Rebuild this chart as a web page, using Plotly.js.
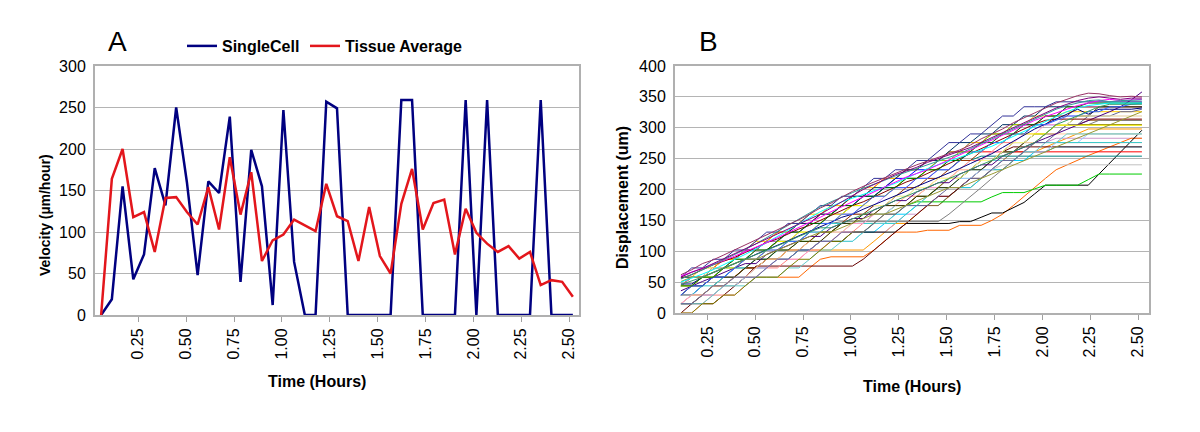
<!DOCTYPE html>
<html>
<head>
<meta charset="utf-8">
<script src="https://cdn.plot.ly/plotly-3.0.1.min.js"></script>
<style>
  html, body { margin: 0; padding: 0; background: #fff; }
  #chart { width: 1200px; height: 432px; }
</style>
</head>
<body>
<div id="chart"></div>
<script>
// frame times in hours (one frame every ~3.4 min)
var timeHours = [0.056, 0.112, 0.168, 0.224, 0.28, 0.336, 0.392, 0.448, 0.504, 0.56,
  0.616, 0.672, 0.728, 0.784, 0.84, 0.896, 0.952, 1.008, 1.064, 1.12,
  1.176, 1.232, 1.288, 1.344, 1.4, 1.456, 1.512, 1.568, 1.624, 1.68,
  1.736, 1.792, 1.848, 1.904, 1.96, 2.016, 2.072, 2.128, 2.184, 2.24,
  2.296, 2.352, 2.408, 2.464, 2.52];

// panel A, velocity in um/hour
var singleCell = [0, 19, 155, 43, 73, 177, 132, 250, 160, 48, 161, 147, 239, 40, 199, 155, 12, 247, 64, 0,
  0, 257, 249, 0, 0, 0, 0, 0, 259, 259, 0, 0, 0, 0, 259, 0, 259, 0, 0, 0, 0, 259, 0, 0, 0];
var tissueAverage = [0, 164, 200, 118, 124, 76, 141, 142, 124, 109, 154, 103, 190, 121, 172, 65, 90, 97, 115, 108,
  101, 158, 119, 113, 65, 130, 71, 50, 134, 176, 103, 135, 139, 73, 128, 99, 86, 76, 83, 68, 76, 36, 42, 40, 22];

// panel B, displacement (um) per cell, from the 2nd frame on
var displacementTracks = [
  [15,29,29,44,44,58,73,73,87,87,102, 102,102,102,102,102,102,102,116,131,145,145, 160,174,174,189,203,203,218,232,232,247,261, 261,269,276,283,290,298,298,298,298,298,298],
  [29,29,44,58,58,73,87,87,102,102,116, 116,131,131,131,131,131,131,131,131,145,160, 160,174,189,189,203,218,218,232,247,247,261, 276,276,283,283,283,283,283,283,283,283,283],
  [15,15,29,29,44,58,58,73,73,87,87, 102,102,116,116,116,116,131,131,145,160,160, 174,174,174,189,203,203,218,232,232,247,247, 261,261,269,269,269,269,269,269,269,269,269],
  [44,58,58,73,87,87,102,102,116,131,131, 145,145,160,160,174,174,174,174,174,174,174, 174,174,174,189,203,218,218,232,247,261,261, 276,290,290,305,305,312,312,312,312,312,312],
  [15,15,29,29,44,44,58,58,58,58,58, 58,73,87,91,91,91,91,102,116,131,131, 131,134,134,134,142,142,142,150,160,174,189, 203,218,232,240,247,255,262,269,276,283,283],
  [29,29,29,44,58,58,73,73,87,87,87, 102,102,116,116,116,131,131,131,131,131,145, 145,145,145,145,148,148,155,162,162,170,179, 193,207,207,207,207,207,225,243,260,278,296],
  [44,44,58,58,58,73,73,87,87,102,102, 116,116,131,131,145,145,145,160,160,174,174, 180,180,180,180,180,180,180,188,195,195,195, 201,207,207,207,207,216,225,225,225,225,225],
  [15,29,29,44,58,58,73,87,87,102,102, 116,131,131,145,145,160,160,174,174,189,189, 203,203,203,218,218,218,232,232,240,240,240, 240,240,240,240,240,240,240,240,240,240,240],
  [29,44,44,58,73,73,87,102,102,116,131, 131,145,145,160,174,174,189,189,203,203,218, 218,232,232,232,247,247,254,254,254,254,254, 254,254,254,254,254,254,254,254,254,254,254],
  [44,58,58,73,87,87,102,102,116,131,131, 145,145,160,174,174,189,189,203,218,218,232, 232,247,247,261,261,261,261,261,261,261,261, 261,261,261,261,261,261,261,261,261,261,261],
  [0,15,15,15,29,44,58,76,76,76,76, 76,76,76,76,76,76,87,102,116,131,145, 160,174,189,189,203,218,232,247,261,269,269, 269,269,269,269,269,269,269,269,269,269,269],
  [0,0,15,29,29,29,44,58,73,73,87, 87,102,102,116,131,131,145,160,160,174,189, 189,203,218,218,232,247,247,261,276,276,276, 276,276,276,276,276,276,276,276,276,276,276],
  [29,29,44,58,58,73,87,87,102,116,116, 131,145,145,160,160,174,189,189,203,218,218, 232,232,247,261,261,276,276,290,290,305,305, 305,305,305,305,305,305,305,305,305,305,305],
  [15,15,29,29,44,44,58,58,73,87,87, 102,102,116,116,131,145,145,160,160,174,174, 189,189,203,203,218,218,232,232,247,247,261, 261,261,276,276,276,290,290,290,290,290,290],
  [58,58,73,73,87,87,102,116,116,131,131, 145,160,160,174,174,189,203,203,218,218,232, 232,247,247,261,261,276,276,290,290,305,305, 319,319,319,326,326,326,326,326,326,326,326],
  [29,44,44,58,58,73,73,87,102,102,116, 116,131,131,145,160,160,174,174,189,203,203, 218,218,232,232,247,261,261,276,276,290,290, 305,305,305,319,319,319,319,319,319,319,319],
  [44,44,58,73,73,87,87,102,102,116,131, 131,131,145,145,148,148,148,148,148,148,148, 148,148,148,160,174,189,203,218,232,247,261, 276,290,290,305,305,305,312,312,312,312,312],
  [58,58,58,73,73,87,102,102,116,116,131, 145,145,160,160,174,189,189,203,203,218,232, 232,247,247,261,276,276,290,290,305,305,319, 319,334,334,334,334,334,334,334,334,334,334],
  [44,58,58,58,73,87,87,87,102,116,116, 116,131,145,145,160,174,174,189,189,203,218, 218,232,247,247,261,261,276,290,290,305,305, 305,319,319,334,334,334,334,334,334,334,334],
  [15,15,29,44,44,58,73,73,87,87,102, 102,116,131,131,145,160,160,174,174,189,203, 203,218,218,232,247,247,261,276,276,290,290, 305,305,319,319,334,334,334,334,334,334,334],
  [29,29,44,44,58,73,73,87,87,102,116, 116,131,131,145,145,145,145,145,145,145,160, 174,189,203,218,218,232,247,247,261,261,276, 276,276,276,276,276,276,276,276,276,276,276],
  [15,29,29,29,44,58,58,73,73,87,87, 87,102,116,116,131,145,145,160,174,174,174, 189,203,203,218,232,232,247,261,261,276,290, 290,305,305,305,305,305,305,305,305,305,305],
  [58,73,73,87,87,102,102,116,131,131,145, 145,160,174,174,189,189,203,218,218,232,232, 247,247,261,276,276,290,290,305,319,319,334, 334,334,342,342,342,342,342,342,342,342,342],
  [29,29,29,44,44,58,58,73,87,87,102, 102,116,116,131,131,145,160,160,174,174,189, 189,203,218,218,232,232,247,247,261,261,276, 276,290,290,290,290,290,290,290,290,290,290],
  [15,15,15,29,44,44,44,58,58,58,73, 73,87,102,102,116,116,131,145,145,160,174, 174,189,203,203,218,232,232,247,247,247,261, 261,276,276,290,290,290,290,290,290,290,290],
  [0,0,15,15,29,29,44,58,58,58,73, 87,87,102,116,116,131,131,145,160,160,174, 189,189,203,218,218,232,247,247,261,276,276, 290,290,305,305,305,305,305,305,305,305,305],
  [44,58,58,73,73,87,102,102,116,116,131, 131,145,145,160,160,160,174,189,189,203,203, 218,218,232,247,247,261,261,276,276,290,305, 305,319,319,334,334,334,334,334,334,334,334],
  [29,44,44,58,58,58,73,87,87,102,102, 116,116,116,131,145,145,160,160,174,174,174, 189,189,203,203,218,232,232,247,261,261,276, 290,290,305,305,319,319,334,334,334,334,334],
  [15,15,29,44,44,58,58,58,73,87,87, 102,102,116,116,131,131,131,145,160,160,174, 174,174,189,203,203,218,218,232,247,247,261, 276,276,290,305,305,319,319,319,326,326,330],
  [44,44,58,73,73,87,87,102,102,102,116, 131,131,145,145,160,160,174,174,174,189,189, 203,203,218,218,218,232,247,247,261,276,276, 290,290,305,305,319,319,319,319,319,319,319],
  [36,44,51,58,66,73,80,80,95,102,109, 116,124,124,138,145,153,153,167,174,182,182, 196,203,211,211,225,232,240,240,254,261,269, 276,283,290,298,305,312,319,326,334,345,358],
  [44,44,58,58,73,73,87,87,102,116,116, 131,131,145,160,160,174,174,189,189,203,218, 218,232,232,247,247,261,261,276,276,290,290, 290,290,304,304,304,304,304,304,304,304,304],
  [56,62,70,78,84,90,98,106,114,120,128, 136,142,150,158,166,174,180,188,196,204,212, 218,226,234,242,250,258,266,274,282,290,298, 306,312,314,314,314,314,314,314,314,314,314],
  [47,47,58,65,72,80,87,95,102,110,117, 125,132,140,147,155,160,168,175,182,190,197, 205,212,220,226,234,242,250,258,268,278,288, 298,306,314,322,330,322,330,330,330,330,332],
  [29,44,44,58,58,73,87,87,102,102,116, 116,131,145,145,160,160,174,189,189,203,203, 218,218,232,232,247,261,261,276,276,290,290, 305,305,312,319,319,326,326,334,334,338,340],
  [44,44,58,58,73,87,87,102,102,116,131, 131,145,145,160,174,174,189,189,203,203,218, 218,232,232,247,247,261,276,276,290,290,305, 305,319,319,334,334,340,340,340,340,340,340],
  [51,58,58,66,73,80,87,87,95,102,109, 116,124,131,131,138,145,153,160,160,167,174, 182,189,196,203,203,211,218,225,232,240,247, 254,261,269,276,283,290,298,305,312,319,326],
  [46,52,58,66,73,80,87,95,102,109,116, 124,131,138,138,145,153,160,167,174,182,189, 196,203,211,218,225,232,240,247,254,261,269, 276,290,305,312,319,326,334,338,338,338,338],
  [50,56,63,70,78,86,95,104,114,124,134, 144,154,164,172,180,186,192,198,204,210,218, 226,234,240,246,252,258,264,270,278,286,294, 302,310,318,326,332,336,338,340,340,340,340],
  [60,66,72,78,85,92,99,106,114,122,130, 138,146,155,164,172,180,188,196,204,212,220, 226,232,240,248,256,264,272,280,288,296,304, 312,318,324,330,336,340,344,346,344,345,346],
  [55,62,70,78,86,94,103,112,122,132,142, 152,162,172,180,188,195,202,208,215,222,228, 234,240,246,252,258,266,274,282,290,298,306, 314,322,330,336,340,344,345,342,344,345,345],
  [58,66,72,80,88,96,104,112,120,128,136, 144,152,160,170,180,190,200,208,216,224,230, 236,244,250,256,262,268,276,284,292,300,308, 316,324,332,338,344,348,350,348,346,348,348],
  [62,70,80,86,94,102,110,118,126,134,143, 151,160,170,178,188,197,205,212,220,226,234, 240,246,252,258,264,272,282,290,298,308,316, 324,332,340,346,352,356,355,352,350,351,350]
];
var trackColors = ['#ff9900', '#cc99cc', '#00ccff', '#996633',
  '#ff6600', '#000000', '#00cc00', '#c0c0c0', '#008080', '#ff0000', '#660000', '#ff8080',
  '#0000ff', '#99ccff', '#ffcc00', '#cc99ff', '#808080', '#003366', '#99cc00', '#993300', '#33cccc',
  '#ff99cc', '#333399', '#ffcc99', '#66cccc', '#808000', '#cc66cc', '#333300', '#666699', '#ffff99',
  '#4b0082', '#ffff00', '#800000', '#000080', '#3366ff', '#006600', '#999933', '#339966', '#00ffff',
  '#ff00ff', '#339999', '#800080', '#993366'];

var CHART = document.getElementById('chart');
var FONT = 'Liberation Sans, Arial, sans-serif';

// page pixels -> paper coords (margins are zero)
function px(x) { return x / 1200; }
function py(y) { return 1 - y / 432; }

var data = [
  {x: timeHours, y: singleCell, name: 'SingleCell', type: 'scatter', mode: 'lines',
   line: {color: '#000080', width: 2.5}, legend: 'legend'},
  {x: timeHours, y: tissueAverage, name: 'Tissue Average', type: 'scatter', mode: 'lines',
   line: {color: '#e3161c', width: 2.5}, legend: 'legend2'}
];
displacementTracks.forEach(function(track, i) {
  data.push({x: timeHours.slice(1), y: track, xaxis: 'x2', yaxis: 'y2', type: 'scatter', mode: 'lines',
    line: {color: trackColors[i], width: 1}, showlegend: false, hoverinfo: 'skip'});
});

function timeAxis(domain, range, anchor) {
  return {
    domain: domain, range: range, anchor: anchor,
    tick0: 0.25, dtick: 0.25, tickformat: '.2f', tickangle: -90,
    ticks: 'outside', ticklen: 5, tickcolor: '#a0a0a0',
    showgrid: false, zeroline: false,
    showline: true, mirror: true, linecolor: '#b0b0b0', linewidth: 2,
    tickfont: {family: FONT, size: 16, color: '#000'}
  };
}
function valueAxis(domain, range, anchor) {
  return {
    domain: domain, range: range, anchor: anchor, dtick: 50,
    ticks: '', ticklabelstandoff: 4,
    showgrid: true, gridcolor: '#b4b4b4', gridwidth: 1, zeroline: false,
    showline: true, mirror: true, linecolor: '#b0b0b0', linewidth: 2,
    tickfont: {family: FONT, size: 16, color: '#000'}
  };
}
function legendAt(x) {
  return {orientation: 'h', x: px(x), y: py(29), xanchor: 'left', yanchor: 'top',
    font: {family: FONT, size: 16, color: '#000', weight: 'bold'}, bgcolor: 'rgba(0,0,0,0)'};
}

function label(text, x, y, size, angle) {
  return {text: text, x: px(x), y: py(y), xref: 'paper', yref: 'paper',
    xanchor: 'center', yanchor: 'middle', showarrow: false, textangle: angle || 0,
    font: {family: FONT, size: size, color: '#000'}};
}

var layout = {
  width: 1200, height: 432,
  margin: {l: 0, r: 0, t: 0, b: 0},
  paper_bgcolor: '#fff', plot_bgcolor: '#fff',
  font: {family: FONT, color: '#000'},
  showlegend: true,
  legend: legendAt(182),
  legend2: legendAt(305),
  xaxis: timeAxis([px(95), px(579)], [0.024, 2.552], 'y'),
  yaxis: valueAxis([py(315), py(66)], [0, 300], 'x'),
  xaxis2: timeAxis([px(675), px(1149)], [0.081, 2.557], 'y2'),
  yaxis2: valueAxis([py(313), py(66)], [0, 400], 'x2'),
  annotations: [
    label('A', 117, 41, 28),
    label('B', 708, 41, 28),
    label('<b>Velocity (µm/hour)</b>', 45, 215, 14, -90),
    label('<b>Time (Hours)</b>', 317, 381, 16),
    label('<b>Displacement (um)</b>', 623, 198, 16, -90),
    label('<b>Time (Hours)</b>', 912, 386, 16)
  ]
};

Plotly.newPlot(CHART, data, layout, {displayModeBar: false, staticPlot: true});
</script>
</body>
</html>
